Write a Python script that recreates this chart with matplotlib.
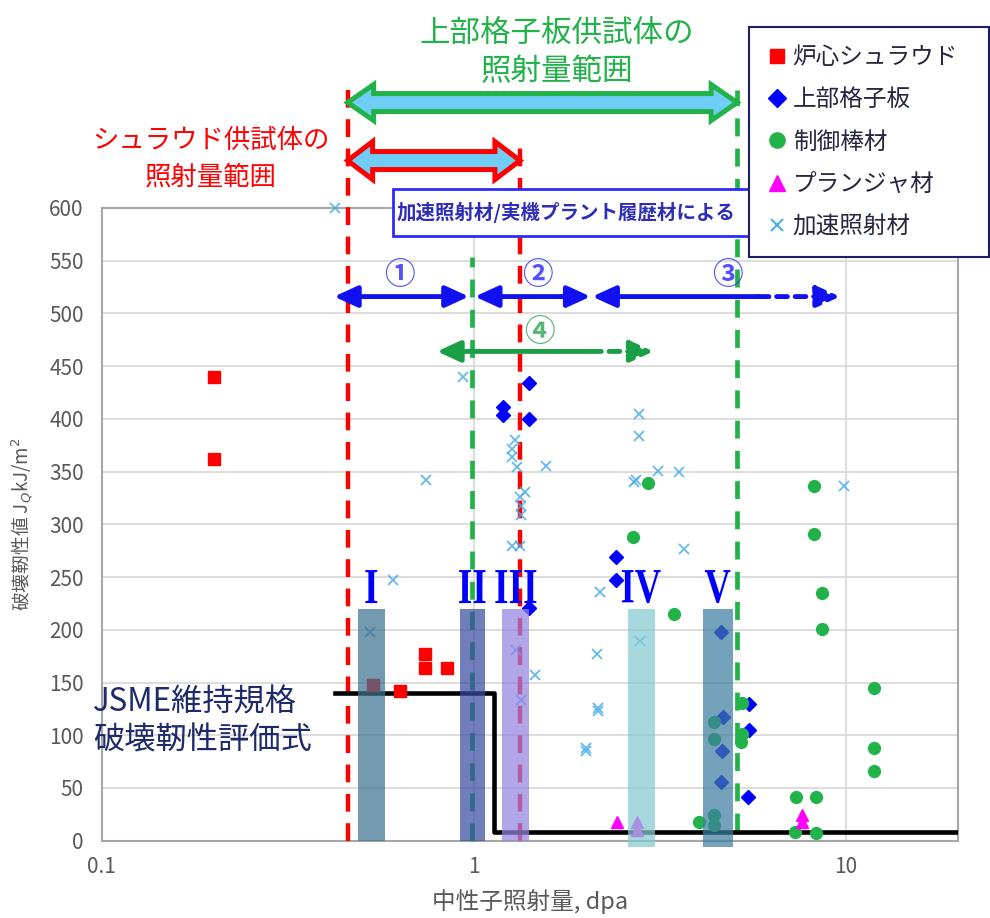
import numpy as np
import matplotlib.pyplot as plt
from matplotlib.patches import Polygon, Rectangle, PathPatch
from matplotlib.lines import Line2D
from matplotlib.textpath import TextPath
from matplotlib.font_manager import FontProperties
from matplotlib.transforms import IdentityTransform, Affine2D

plt.rcParams['font.family'] = ['Noto Sans CJK JP', 'DejaVu Sans']

# ---- data ----
shroud_x = [0.2, 0.2, 0.535, 0.633, 0.739, 0.739, 0.845]
shroud_y = [440, 362, 148, 142, 177, 164, 164]

grid_x = [1.196, 1.196, 1.41, 1.41, 1.41, 2.41, 2.41, 4.61, 4.66, 4.64, 4.61, 5.5, 5.5, 5.47]
grid_y = [411, 404, 434, 400, 221, 269, 247, 198, 117, 85, 56, 130, 105, 41]

rod_x = [2.93, 2.67, 3.46, 8.2, 8.2, 8.6, 8.6, 11.9, 11.9, 11.9, 7.36, 8.33, 7.3, 8.3,
         5.27, 5.25, 5.23, 4.42, 4.42, 4.03, 4.42, 4.42]
rod_y = [339, 288, 215, 336, 291, 235, 201, 145, 88, 66, 41, 41, 8, 7,
         131, 101, 94, 113, 96, 18, 24, 15]

plunger_x = [2.43, 2.75, 2.75, 7.6, 7.6]
plunger_y = [18, 18, 10, 24, 18]

accel_x = [0.424, 0.934, 0.746, 1.29, 1.27, 1.27, 1.31, 1.566, 1.37, 1.33, 1.34, 1.34,
           1.27, 1.33, 2.78, 2.78, 2.73, 3.12, 3.56, 3.68, 2.18, 0.607, 0.526, 2.14,
           2.8, 1.46, 1.30, 1.34, 2.16, 2.16, 2.0, 2.0, 9.88, 2.7]
accel_y = [600, 440, 342, 380, 371, 364, 354, 355, 331, 326, 317, 309,
           279, 279, 405, 384, 342, 351, 350, 277, 236, 247, 198, 177,
           189, 157, 181, 133, 126, 123, 88, 85, 336, 340]

# JSME evaluation curve (step)
jsme_x = [0.424, 1.13, 20]
jsme_y = [140, 8, 8]

# highlighted bands I..V
band_names = ['I', 'II', 'III', 'IV', 'V']
band_left = [0.488, 0.917, 1.194, 2.595, 4.12]
band_right = [0.576, 1.070, 1.408, 3.06, 4.96]
band_bottom = [0, 0, 0, -6, -6]
band_top = 220
band_colors = ['#3f7391', '#3a4ca3', '#9384e0', '#86cad0', '#3f7ea0']

# irradiation ranges
shroud_range = [0.458, 1.33]
grid_range = [0.458, 5.1]

# range arrows (1)-(4): start, solid end, dashed end
arrows_blue = [(0.421, 0.970, None), (1.006, 2.06, None), (2.08, 5.81, 9.64)]
arrow_green = (0.796, 2.06, 3.04)
circ_labels = ['①', '②', '③', '④']
circ_x = [0.63, 1.48, 4.8, 1.5]
circ_y = [536, 536, 536, 482]

RED = '#ff0000'
BLUE = '#0000ff'
GREEN = '#22b24a'
MAGENTA = '#ff00ff'
CYAN = '#4aaeea'
GREY = '#595959'

fig = plt.figure(figsize=(9.9, 9.18), dpi=100)
ax = fig.add_axes([101.7 / 990, 77.3 / 918, (958 - 101.7) / 990, (840.7 - 208) / 918])
ax.set_xscale('log')
ax.set_xlim(0.1, 20)
ax.set_ylim(0, 600)
ax.set_yticks(np.arange(0, 601, 50))
ax.set_xticks([0.1, 1, 10])
ax.set_xticklabels(['0.1', '1', '10'])
ax.xaxis.set_minor_formatter(plt.NullFormatter())
ax.tick_params(which='both', length=0, colors=GREY, labelsize=15)
ax.tick_params(axis='y', pad=13)
ax.tick_params(axis='x', pad=11)
ax.grid(True, which='major', color='#dadada', lw=1.3)
ax.set_axisbelow(True)
for s in ax.spines.values():
    s.set_color('#a6a6a6')
    s.set_linewidth(1.5)

ax.set_xlabel('中性子照射量, dpa', color=GREY, fontsize=17, labelpad=8)
ax.set_ylabel('破壊靭性値 J$_Q$kJ/m$^2$', color=GREY, fontsize=13.5, labelpad=10)

# vertical dashed lines
for xv, yt in zip(shroud_range, [719, 662]):
    ax.plot([xv, xv], [0, yt], color=RED, lw=3.2, dashes=(4, 2.6), zorder=3, clip_on=False)
for xv, yt, yb in zip([0.988, grid_range[1]], [554, 712], [0, 9]):
    ax.plot([xv, xv], [yb, yt], color=GREEN, lw=3.4, dashes=(3.8, 2.6), zorder=3, clip_on=False)

# JSME curve
ax.plot(jsme_x, jsme_y, drawstyle='steps-post', color='black', lw=3.3, zorder=3)

# data series
kw = dict(ls='none', clip_on=False, zorder=5)
ax.plot(shroud_x, shroud_y, marker='s', ms=8, color=RED, **kw)
ax.plot(grid_x, grid_y, marker='D', ms=7, color=BLUE, **kw)
ax.plot(rod_x, rod_y, marker='o', ms=8.5, color=GREEN, **kw)
ax.plot(plunger_x, plunger_y, marker='^', ms=9, color=MAGENTA, **kw)
ax.plot(accel_x, accel_y, marker='x', ms=7, mew=1.3, color=CYAN, alpha=0.85, **kw)

# bands + condensed serif labels
serif = FontProperties(family='Liberation Serif', weight='bold')
for name, l, r, b, c in zip(band_names, band_left, band_right, band_bottom, band_colors):
    ax.bar(l, band_top - b, bottom=b, width=r - l, align='edge', color=c, alpha=0.72,
           zorder=6, clip_on=False)
    xc = np.sqrt(l * r)
    cx, cy = ax.transData.transform((xc, 241))
    tp = TextPath((0, 0), name, size=50, prop=serif)
    ext = tp.get_extents()
    sy = 33 / ext.height
    sx = sy * 0.74
    tr = (Affine2D().translate(-(ext.x0 + ext.x1) / 2, -(ext.y0 + ext.y1) / 2)
          .scale(sx, sy).translate(cx, cy))
    fig.add_artist(PathPatch(tr.transform_path(tp), fc=BLUE, ec='none',
                             transform=IdentityTransform(), zorder=7))

# thin range arrows
def thin_arrow(x0, x1, x2, y, color):
    style = '<|-|>' if x2 is None else '<|-'
    ax.annotate('', xy=(x1, y), xytext=(x0, y),
                arrowprops=dict(arrowstyle=style + ',head_length=0.7,head_width=0.32',
                                color=color, lw=3.5, mutation_scale=20,
                                shrinkA=0, shrinkB=0), annotation_clip=False, zorder=4)
    if x2 is not None:
        ax.annotate('', xy=(x2, y), xytext=(x1, y),
                    arrowprops=dict(arrowstyle='-|>,head_length=0.7,head_width=0.32',
                                    color=color, lw=3.5, mutation_scale=20,
                                    linestyle=(0, (2.2, 1.6)),
                                    shrinkA=0, shrinkB=0), annotation_clip=False, zorder=4)

for a in arrows_blue:
    thin_arrow(a[0], a[1], a[2], 516, '#1010f0')
thin_arrow(arrow_green[0], arrow_green[1], arrow_green[2], 464, '#19a046')

for t, xc, yc in zip(circ_labels, circ_x, circ_y):
    col = '#3434ff' if t != '④' else '#3aa85a'
    ax.text(xc, yc, t, ha='center', va='center', fontsize=22, color=col, alpha=0.85,
            fontweight='bold', zorder=4)

# fat double arrows above the plot (pixel sized heads)
def fat_darrow(x0, x1, y, shaft, head_w, head_l, fc, ec):
    p0 = ax.transData.transform((x0, y))
    p1 = ax.transData.transform((x1, y))
    X0, X1, Y = p0[0], p1[0], p0[1]
    pts = [(X0, Y), (X0 + head_l, Y + head_w), (X0 + head_l, Y + shaft),
           (X1 - head_l, Y + shaft), (X1 - head_l, Y + head_w), (X1, Y),
           (X1 - head_l, Y - head_w), (X1 - head_l, Y - shaft),
           (X0 + head_l, Y - shaft), (X0 + head_l, Y - head_w)]
    poly = Polygon(pts, closed=True, fc=fc, ec=ec, lw=3.6, joinstyle='miter',
                   transform=IdentityTransform(), clip_on=False, zorder=8)
    fig.add_artist(poly)

fat_darrow(grid_range[0], grid_range[1], 700, 9, 18, 26, '#6fcdf6', GREEN)
fat_darrow(shroud_range[0], shroud_range[1], 645, 9, 19, 25, '#6fcdf6', RED)

fig.text(557 / 990, 1 - 33 / 918, '上部格子板供試体の', ha='center', va='center',
         color=GREEN, fontsize=22)
fig.text(557 / 990, 1 - 72 / 918, '照射量範囲', ha='center', va='center',
         color=GREEN, fontsize=22)
fig.text(211 / 990, 1 - 140 / 918, 'シュラウド供試体の', ha='center', va='center',
         color=RED, fontsize=19)
fig.text(211 / 990, 1 - 177 / 918, '照射量範囲', ha='center', va='center',
         color=RED, fontsize=19)

fig.text(93 / 990, 1 - 702 / 918, 'JSME維持規格', ha='left', va='center',
         color='#1f2a6a', fontsize=22.5)
fig.text(93 / 990, 1 - 740 / 918, '破壊靭性評価式', ha='left', va='center',
         color='#1f2a6a', fontsize=22.5)

# blue note box (its right end sits under the legend)
ax.add_patch(Rectangle((0.606, 573), 6.0 - 0.606, 45, fc='white', ec='#2a2aff', lw=2,
                       clip_on=False, zorder=8))
ax.text(0.622, 596, '加速照射材/実機プラント履歴材による', ha='left', va='center',
        fontsize=14, fontweight='bold', color='#2d2db8', zorder=9, clip_on=False)

# legend
handles = [
    Line2D([], [], ls='none', marker='s', ms=10, color=RED, label='炉心シュラウド'),
    Line2D([], [], ls='none', marker='D', ms=9, color=BLUE, label='上部格子板'),
    Line2D([], [], ls='none', marker='o', ms=11, color=GREEN, label='制御棒材'),
    Line2D([], [], ls='none', marker='^', ms=11, color=MAGENTA, label='プランジャ材'),
    Line2D([], [], ls='none', marker='x', ms=9, mew=1.5, color=CYAN, label='加速照射材'),
]
leg = fig.legend(handles=handles, loc='upper left',
                 bbox_to_anchor=(749 / 990, 1 - 255 / 918, 240 / 990, 228 / 918),
                 mode='expand', fontsize=17, frameon=True, fancybox=False,
                 edgecolor='#1e1e66', framealpha=1, handlelength=0.8, handletextpad=0.25,
                 labelspacing=0.82, borderpad=0.8, borderaxespad=0)
leg.get_frame().set_linewidth(1.5)
leg.set_zorder(20)
for t in leg.get_texts():
    t.set_color('#262640')

fig.savefig('out.png', dpi=100)
